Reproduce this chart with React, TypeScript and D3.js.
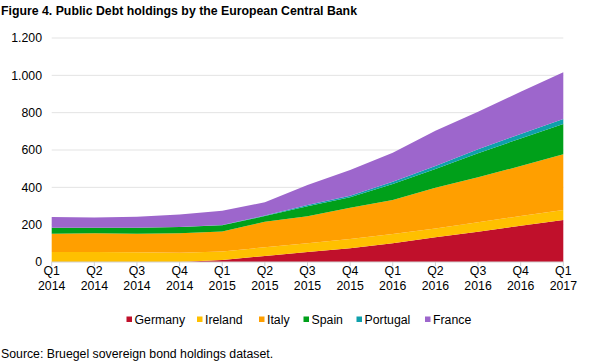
import React from 'react';
import * as d3 from 'd3';

// quarters on the x axis
const quarters = ['Q1', 'Q2', 'Q3', 'Q4', 'Q1', 'Q2', 'Q3', 'Q4', 'Q1', 'Q2', 'Q3', 'Q4', 'Q1'];
const years = ['2014', '2014', '2014', '2014', '2015', '2015', '2015', '2015', '2016', '2016', '2016', '2016', '2017'];

// holdings per country, EUR bn
const germany = [0, 0, 0, 0, 11, 32, 53, 73, 100, 132, 162, 194, 225];
const ireland = [54, 54, 52, 50, 45, 47, 47, 50, 50, 48, 51, 52, 54];
const italy = [97, 100, 99, 104, 107, 137, 145, 168, 182, 218, 241, 268, 298];
const spain = [33, 30, 33, 34, 34, 30, 53, 56, 86, 100, 128, 148, 162];
const portugal = [0, 0, 0, 0, 1, 3, 7, 8, 12, 16, 22, 24, 27];
const france = [57, 55, 59, 67, 76, 71, 107, 138, 155, 189, 201, 226, 250];

const countries = ['Germany', 'Ireland', 'Italy', 'Spain', 'Portugal', 'France'];
const seriesValues = [germany, ireland, italy, spain, portugal, france];
const colors = ['#c0102b', '#ffc000', '#ff9f00', '#00a01a', '#0fa0ab', '#9d66cc'];

const yTicks = [0, 200, 400, 600, 800, 1000, 1200];

const W = 593;
const H = 363;
const font = 'Arial, "Liberation Sans", sans-serif';

// Y axis labels use a dot as thousands separator
const fmt = (v: number) => (v >= 1000 ? `${Math.floor(v / 1000)}.${String(v % 1000).padStart(3, '0')}` : String(v));

export default function App() {
  const rows = quarters.map((_, i) => {
    const r: Record<string, number> = { i };
    countries.forEach((c, k) => (r[c] = seriesValues[k][i]));
    return r;
  });

  const x = d3.scaleLinear().domain([0, quarters.length - 1]).range([51.7, 563.3]);
  const y = d3.scaleLinear().domain([0, 1200]).range([262, 38]);

  const stacked = d3.stack<Record<string, number>>().keys(countries)(rows);

  const area = d3
    .area<d3.SeriesPoint<Record<string, number>>>()
    .x((d) => x(d.data.i))
    .y0((d) => y(d[0]))
    .y1((d) => y(d[1]));

  // legend layout
  const legendX = [126.5, 197, 259, 303.5, 356.5, 425];

  return (
    <div style={{ position: 'absolute', left: 0, top: 0 }}>
      <svg width={W} height={H} style={{ display: 'block', background: '#fff' }} fontFamily={font}>
        <text x={1} y={15} fontSize={12.3} fontWeight="bold" fill="#000">
          Figure 4. Public Debt holdings by the European Central Bank
        </text>

        {yTicks.map((t) => (
          <g key={t}>
            {t > 0 && <line x1={51.7} x2={563.3} y1={y(t)} y2={y(t)} stroke="#e3e3e3" strokeWidth={1} />}
            <text x={42} y={y(t)} dy="0.35em" textAnchor="end" fontSize={12.3} fill="#000">
              {fmt(t)}
            </text>
          </g>
        ))}

        {stacked.map((s, k) => (
          <path key={s.key} d={area(s) ?? ''} fill={colors[k]} />
        ))}

        <line x1={51.7} x2={563.3} y1={262} y2={262} stroke="#d0d0d0" strokeWidth={1} />
        {quarters.map((q, i) => (
          <g key={i} transform={`translate(${x(i)},0)`}>
            <line y1={262} y2={266} stroke="#d0d0d0" strokeWidth={1} />
            <text y={275} textAnchor="middle" fontSize={12.3} fill="#000">
              {q}
            </text>
            <text y={290} textAnchor="middle" fontSize={12.3} fill="#000">
              {years[i]}
            </text>
          </g>
        ))}

        {countries.map((c, k) => (
          <g key={c} transform={`translate(${legendX[k]},320)`}>
            <rect x={0} y={-3.5} width={5.5} height={5.5} fill={colors[k]} />
            <text x={8} y={0} dy="0.35em" fontSize={12.3} fill="#000">
              {c}
            </text>
          </g>
        ))}

        <text x={1} y={358} fontSize={12.3} fill="#000">
          Source: Bruegel sovereign bond holdings dataset.
        </text>
      </svg>
    </div>
  );
}
